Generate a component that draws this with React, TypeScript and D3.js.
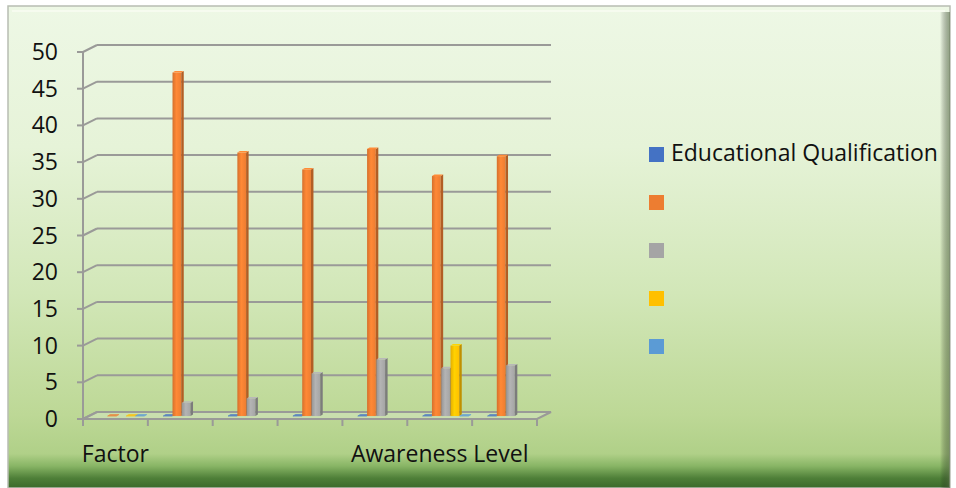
import React from "react";
import * as d3 from "d3";

const categories = ["Factor", "", "", "", "", "Awareness Level", ""];
const seriesNames = ["Educational Qualification", "", "", "", ""];
const seriesColors = ["#4472c4", "#ed7d31", "#a5a5a5", "#ffc000", "#5b9bd5"];
const s1: (number | null)[] = [null, 0, 0, 0, 0, 0, 0];
const s2: (number | null)[] = [0, 46.8, 35.9, 33.6, 36.4, 32.7, 35.4];
const s3: (number | null)[] = [null, 1.8, 2.4, 5.8, 7.7, 6.5, 6.9];
const s4: (number | null)[] = [0, null, null, null, null, 9.6, null];
const s5: (number | null)[] = [0, null, null, null, null, 0, null];
const yTicks = [0, 5, 10, 15, 20, 25, 30, 35, 40, 45, 50];

const W = 956;
const H = 488;
const FONT = "'Open Sans', 'Noto Sans', sans-serif";

export default function App() {
  const series = [s1, s2, s3, s4, s5];
  const x0 = 83, x1 = 537;
  const DX = 14, DY = -7;
  const y = d3.scaleLinear().domain([0, 50]).range([419, 52]);
  const xb = d3.scaleBand<number>().domain(d3.range(categories.length)).range([x0, x1]).paddingInner(0).paddingOuter(0);
  const xs = d3.scaleBand<number>().domain(d3.range(series.length)).range([0, 47]).padding(0.06);
  const bOffX = DX * 0.42, bOffY = DY * 0.42;
  const sideW = 2.5, sideH = -1.5;

  const bars: React.ReactNode[] = [];
  categories.forEach((_, ci) => {
    const cx = (xb(ci) as number) + xb.bandwidth() / 2 + bOffX;
    series.forEach((vals, si) => {
      const v = vals[ci];
      if (v === null || v === undefined) return;
      const bx = cx - 23.5 + (xs(si) as number);
      const bw = xs.bandwidth();
      const yb = y(0) + bOffY;
      const yt = y(v) + bOffY;
      const col = seriesColors[si];
      const dark = d3.color(col)!.darker(0.8).toString();
      const light = d3.color(col)!.brighter(0.3).toString();
      bars.push(
        <g key={`b${ci}-${si}`}>
          {v > 0 && (
            <>
              <rect x={bx} y={yt} width={bw} height={yb - yt} fill={`url(#grad${si})`} />
              <path d={`M${bx + bw},${yt} L${bx + bw + sideW},${yt + sideH} L${bx + bw + sideW},${yb + sideH} L${bx + bw},${yb} Z`} fill={dark} />
            </>
          )}
          <path d={`M${bx},${yt} L${bx + sideW},${yt + sideH} L${bx + bw + sideW},${yt + sideH} L${bx + bw},${yt} Z`} fill={v > 0 ? light : col} stroke={v > 0 ? "none" : col} strokeWidth={0.8} opacity={v > 0 ? 1 : 0.8} />
        </g>
      );
    });
  });

  return (
    <svg width={W} height={H} style={{ position: "absolute", left: 0, top: 0 }}>
      <defs>
        <linearGradient id="bg" x1="0" y1="0" x2="0" y2={H} gradientUnits="userSpaceOnUse">
          <stop offset={0} stopColor="#eef8e6" />
          <stop offset={0.3} stopColor="#e6f3d8" />
          <stop offset={0.6} stopColor="#d2e7b8" />
          <stop offset={0.85} stopColor="#bdd896" />
          <stop offset={0.93} stopColor="#b0d088" />
          <stop offset={0.955} stopColor="#88b565" />
          <stop offset={0.98} stopColor="#4e7f38" />
          <stop offset={1} stopColor="#3b6a2b" />
        </linearGradient>
        <linearGradient id="rightEdge" x1="0" x2="1" y1="0" y2="0">
          <stop offset={0} stopColor="#000" stopOpacity={0} />
          <stop offset={1} stopColor="#556b44" stopOpacity={0.6} />
        </linearGradient>
        {seriesColors.map((c, i) => (
          <linearGradient key={i} id={`grad${i}`} x1="0" x2="1" y1="0" y2="0">
            <stop offset={0} stopColor={d3.color(c)!.darker(0.3).toString()} />
            <stop offset={0.45} stopColor={d3.color(c)!.brighter(0.25).toString()} />
            <stop offset={1} stopColor={c} />
          </linearGradient>
        ))}
      </defs>
      <rect x={0} y={0} width={W} height={H} fill="#ffffff" />
      <rect x={8} y={6} width={942} height={H - 6} fill="url(#bg)" stroke="#b8bdb2" strokeWidth={1.5} />
      <rect x={940} y={12} width={10} height={H - 12} fill="url(#rightEdge)" />
      <line x1={12} y1={11} x2={945} y2={11} stroke="#f6fbef" strokeWidth={2} />

      {yTicks.map((t) => (
        <g key={`g${t}`} stroke="#9a9a98" strokeWidth={2} fill="none">
          <line x1={x0 + DX} y1={y(t) + DY} x2={x1 + DX} y2={y(t) + DY} strokeOpacity={t === 0 ? 0 : 1} />
          <line x1={x0} y1={y(t)} x2={x0 + DX} y2={y(t) + DY} />
          <line x1={x0 - 6} y1={y(t)} x2={x0} y2={y(t)} />
        </g>
      ))}
      <line x1={x0} y1={y(50)} x2={x0} y2={y(0)} stroke="#9a9a98" strokeWidth={2} />
      <path d={`M${x0},${y(0)} L${x1},${y(0)} L${x1 + DX},${y(0) + DY} L${x0 + DX},${y(0) + DY} Z`} fill="#d6e6c6" fillOpacity={0.5} stroke="#9a9a98" strokeWidth={2} />
      {d3.range(categories.length + 1).map((i) => {
        const xx = x0 + i * xb.step();
        return <line key={`t${i}`} x1={xx} y1={y(0)} x2={xx} y2={y(0) + 7} stroke="#9a9a98" strokeWidth={2} />;
      })}
      {bars}
      {yTicks.map((t) => (
        <text key={`l${t}`} x={58} y={y(t) + 8} textAnchor="end" fontFamily={FONT} fontSize={23} fill="#111">
          {t}
        </text>
      ))}
      {categories.map((c, i) => (
        <text key={`c${i}`} x={(xb(i) as number) + xb.bandwidth() / 2} y={462} textAnchor="middle" fontFamily={FONT} fontSize={23} fill="#111">
          {c}
        </text>
      ))}
      {seriesNames.map((n, i) => (
        <g key={`lg${i}`}>
          <rect x={649} y={147 + i * 48} width={15} height={15} fill={seriesColors[i]} />
          <text x={671} y={161 + i * 48} fontFamily={FONT} fontSize={23} fill="#111">
            {n}
          </text>
        </g>
      ))}
    </svg>
  );
}
